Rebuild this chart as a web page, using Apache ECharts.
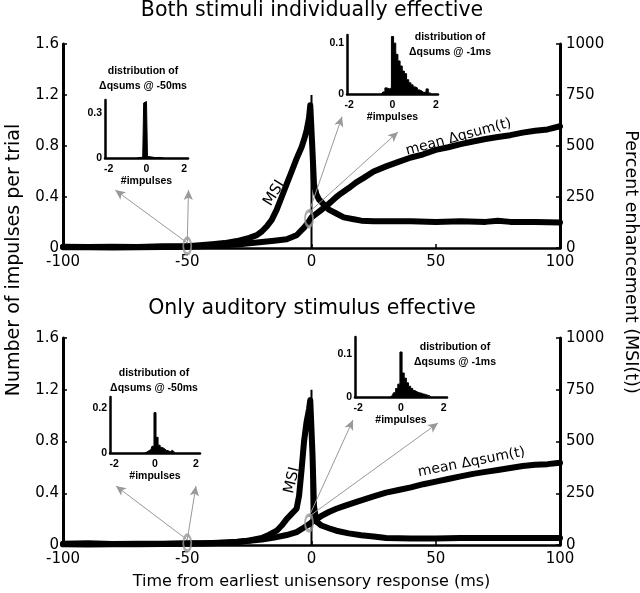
<!DOCTYPE html>
<html><head><meta charset="utf-8">
<script src="https://cdn.jsdelivr.net/npm/echarts@6/dist/echarts.min.js"></script>
<style>html,body{margin:0;padding:0;background:#fff}#c{width:640px;height:593px}</style>
</head><body><div id="c"></div>
<script>
const FONT = 'DejaVu Sans';
const SMALL_FONT = 'Liberation Sans';

// ---- main panels data ----
const xTicks = [-100, -50, 0, 50, 100];
const leftTicks = [0, 0.4, 0.8, 1.2, 1.6];
const rightTicks = [0, 250, 500, 750, 1000];

// top panel: mean delta qsum (impulses per trial)
const topMeanT = [-100,-90,-80,-70,-60,-50,-45,-40,-35,-30,-25,-20,-15,-10,-6,-3,-1,0,2,4,6,8,10,12,15,18,21,25,30,35,40,45,50,55,60,65,70,75,80,85,90,95,100];
const topMeanV = [0.005,0.005,0.004,0.006,0.007,0.01,0.013,0.017,0.022,0.028,0.037,0.047,0.057,0.068,0.1,0.16,0.21,0.24,0.27,0.3,0.33,0.365,0.4,0.43,0.47,0.515,0.55,0.6,0.64,0.675,0.71,0.735,0.77,0.79,0.815,0.835,0.855,0.87,0.885,0.905,0.92,0.93,0.955];
// top panel: MSI (percent enhancement)
const topMsiT = [-100,-90,-80,-70,-60,-50,-45,-40,-35,-30,-25,-22,-20,-18,-16,-14,-12,-10,-8,-6,-4,-3,-2,-1,-0.5,0.3,1,2,3,5,7,10,13,17,20,25,30,40,50,60,70,75,80,90,100];
const topMsiV = [6,5,6,5,8,9,13,18,24,34,50,63,81,106,138,188,250,313,375,438,494,531,575,638,700,500,313,263,238,213,188,169,150,141,134,131,131,131,128,131,128,134,128,128,125];

// bottom panel
const botMeanT = [-100,-90,-80,-70,-60,-50,-45,-40,-35,-30,-25,-20,-15,-10,-6,-3,-1,0,2,4,7,10,13,16,20,25,30,35,40,45,50,55,60,65,70,75,80,85,90,95,100];
const botMeanV = [0.005,0.004,0.006,0.005,0.007,0.01,0.012,0.015,0.02,0.025,0.033,0.043,0.057,0.077,0.1,0.135,0.16,0.175,0.2,0.225,0.255,0.28,0.3,0.32,0.345,0.375,0.405,0.425,0.445,0.47,0.49,0.51,0.53,0.55,0.565,0.58,0.595,0.61,0.62,0.625,0.635];
const botMsiT = [-100,-90,-80,-70,-60,-50,-40,-30,-25,-20,-17,-14,-12,-10,-8,-6,-5,-4,-3,-2,-1,-0.5,0.4,1,2,4,7,10,15,20,25,30,40,50,60,70,80,90,100];
const botMsiV = [6,8,5,6,6,8,9,13,22,34,50,69,94,125,150,175,238,363,500,594,656,700,438,188,113,94,81,69,56,47,41,34,31,31,34,34,34,34,34];

// time-zero reference line
const zeroLineT = [0, 0];
const zeroLineV = [0, 1.2];

// sampled time points (ellipses): [t, impulses]
const topMarks = [[-50, 0.015], [-1, 0.23]];
const botMarks = [[-50, 0.015], [-1, 0.17]];
// arrows from sampled points to insets (data coords)
const topArrows = [[[-50,0.04],[-79,0.455]], [[-50,0.04],[-49.5,0.455]], [[-1,0.28],[12.3,1.03]], [[-1,0.28],[34.8,0.91]]];
const botArrows = [[[-50,0.04],[-78.7,0.456]], [[-50,0.04],[-46.5,0.456]], [[-1,0.22],[16.7,0.966]], [[-1,0.22],[50.9,0.943]]];

// ---- inset histograms ----
const histTicks = [-2, 0, 2];
const hTLx = [-0.5,-0.4,-0.3,-0.2,-0.1,0,0.1,0.2,0.3,0.4,0.5,0.6,0.7,0.8,0.9];
const hTLv = [0,0.003,0.006,0.005,0.37,0.38,0.01,0.008,0.005,0.003,0.002,0.004,0.008,0.002,0];
const hTRx = [-0.5,-0.4,-0.3,-0.2,-0.1,0,0.1,0.2,0.3,0.4,0.5,0.6,0.7,0.8,0.9,1.0,1.1,1.2,1.3,1.4,1.5,1.6,1.7,1.8];
const hTRv = [0,0.004,0.012,0.01,0.012,0.113,0.1,0.078,0.065,0.055,0.045,0.04,0.028,0.022,0.018,0.014,0.012,0.008,0.006,0.003,0.004,0.01,0.002,0];
const hBLx = [-0.5,-0.4,-0.3,-0.2,-0.1,0,0.1,0.2,0.3,0.4,0.5,0.6,0.7,0.8,0.9,1.0];
const hBLv = [0,0.004,0.01,0.015,0.03,0.18,0.07,0.035,0.025,0.02,0.012,0.01,0.006,0.012,0.004,0];
const hBRx = [-0.5,-0.4,-0.3,-0.2,-0.1,0,0.1,0.2,0.3,0.4,0.5,0.6,0.7,0.8,0.9,1.0,1.1,1.2,1.3,1.4];
const hBRv = [0,0.004,0.01,0.02,0.03,0.105,0.056,0.044,0.033,0.025,0.02,0.015,0.012,0.01,0.009,0.007,0.006,0.004,0.003,0];

const zip = (a, b) => a.map((x, i) => [x, b[i]]);

const chart = echarts.init(document.getElementById('c'), null, {renderer: 'canvas'});

function mainX(gi, withName) {
  return {
    type: 'value', gridIndex: gi, min: xTicks[0], max: xTicks[xTicks.length - 1], interval: 50,
    axisLine: {onZero: false, lineStyle: {color: '#000', width: 2.5}},
    axisTick: {inside: true, length: 4, lineStyle: {color: '#000', width: 1.5}},
    axisLabel: {color: '#000', fontFamily: FONT, fontSize: 15, margin: 7},
    splitLine: {show: false},
    name: withName ? 'Time from earliest unisensory response (ms)' : '',
    nameLocation: 'middle', nameGap: 29,
    nameTextStyle: {color: '#000', fontFamily: FONT, fontSize: 16}
  };
}
function mainYL(gi) {
  return {
    type: 'value', gridIndex: gi, min: leftTicks[0], max: leftTicks[leftTicks.length - 1], interval: 0.4, position: 'left',
    axisLine: {show: true, onZero: false, lineStyle: {color: '#000', width: 3}},
    axisTick: {show: true, inside: true, length: 4, lineStyle: {color: '#000', width: 1.5}},
    axisLabel: {color: '#000', fontFamily: FONT, fontSize: 15, margin: 4,
      formatter: v => v === 0 ? '0' : v.toFixed(1)},
    splitLine: {show: false}
  };
}
function mainYR(gi) {
  return {
    type: 'value', gridIndex: gi, min: rightTicks[0], max: rightTicks[rightTicks.length - 1], interval: 250, position: 'right',
    axisLine: {show: true, onZero: false, lineStyle: {color: '#000', width: 3}},
    axisTick: {show: true, inside: true, length: 4, lineStyle: {color: '#000', width: 1.5}},
    axisLabel: {color: '#000', fontFamily: FONT, fontSize: 15, margin: 6, formatter: v => String(v)},
    splitLine: {show: false}
  };
}
const smallFont = {color: '#000', fontFamily: SMALL_FONT, fontSize: 10.5, fontWeight: 'bold'};
function insetX(gi, min, max) {
  return {
    type: 'value', gridIndex: gi, min: min, max: max,
    axisLine: {onZero: false, lineStyle: {color: '#000', width: 2.5}},
    axisTick: {show: false}, splitLine: {show: false},
    axisLabel: Object.assign({customValues: histTicks, margin: 6}, smallFont),
    name: '#impulses', nameLocation: 'middle', nameGap: 18, nameTextStyle: smallFont
  };
}
function insetY(gi, max, lab) {
  return {
    type: 'value', gridIndex: gi, min: 0, max: max,
    axisLine: {show: true, onZero: false, lineStyle: {color: '#000', width: 2.5}},
    axisTick: {show: false}, splitLine: {show: false},
    axisLabel: Object.assign({customValues: [0, lab], margin: 3,
      formatter: v => v === 0 ? '0' : String(v)}, smallFont)
  };
}
const thick = {color: '#000', width: 6, cap: 'round', join: 'round'};
function curve(xi, yi, data, lw) {
  return {type: 'line', xAxisIndex: xi, yAxisIndex: yi, data: data, symbol: 'none',
    lineStyle: lw ? {color: '#000', width: lw} : thick, animation: false, z: 3, silent: true};
}
function hist(xi, yi, data) {
  return {type: 'line', xAxisIndex: xi, yAxisIndex: yi, data: data, symbol: 'none', step: 'middle',
    lineStyle: {color: '#000', width: 1}, areaStyle: {color: '#000', opacity: 1},
    animation: false, silent: true};
}
const ellipse = 'path://M50,0 A50,100 0 1,0 50,200 A50,100 0 1,0 50,0 Z';
function marks(xi, yi, pts, arrows) {
  return {type: 'scatter', xAxisIndex: xi, yAxisIndex: yi, data: pts, symbol: ellipse,
    symbolSize: [8, 16], itemStyle: {color: 'rgba(0,0,0,0)', borderColor: '#999', borderWidth: 2.5},
    z: 6, silent: true, animation: false,
    markLine: {silent: true, animation: false, symbol: ['none', 'arrow'], symbolSize: [7, 10],
      lineStyle: {color: '#999', width: 1, type: 'solid'}, label: {show: false},
      emphasis: {disabled: true},
      data: arrows.map(a => [{coord: a[0]}, {coord: a[1]}])}};
}
function insetTitle(cx, top, txt) {
  return {text: txt, left: cx, top: top, textAlign: 'center', padding: 0,
    textStyle: Object.assign({lineHeight: 14.5}, smallFont)};
}

const option = {
  backgroundColor: '#fff',
  animation: false,
  title: [
    {text: 'Both stimuli individually effective', left: 312, top: 0, textAlign: 'center', padding: 0,
      textStyle: {color: '#000', fontFamily: FONT, fontSize: 20.5, fontWeight: 'normal'}},
    {text: 'Only auditory stimulus effective', left: 312, top: 298, textAlign: 'center', padding: 0,
      textStyle: {color: '#000', fontFamily: FONT, fontSize: 20.5, fontWeight: 'normal'}},
    insetTitle(143, 64, 'distribution of\nΔqsums @ -50ms'),
    insetTitle(450, 30, 'distribution of\nΔqsums @ -1ms'),
    insetTitle(154, 366, 'distribution of\nΔqsums @ -50ms'),
    insetTitle(455, 340, 'distribution of\nΔqsums @ -1ms')
  ],
  grid: [
    {left: 63, top: 44, width: 497, height: 204},
    {left: 63, top: 338, width: 497, height: 207},
    {left: 105, top: 100, width: 83, height: 58},
    {left: 347, top: 35, width: 91, height: 59},
    {left: 110, top: 397, width: 90, height: 56},
    {left: 355, top: 337, width: 92, height: 60}
  ],
  xAxis: [mainX(0, false), mainX(1, true),
    insetX(2, -2.2, 2.2), insetX(3, -2.1, 2.1), insetX(4, -2.2, 2.2), insetX(5, -2.15, 2.15)],
  yAxis: [mainYL(0), mainYR(0), mainYL(1), mainYR(1),
    insetY(2, 0.39, 0.3), insetY(3, 0.116, 0.1), insetY(4, 0.25, 0.2), insetY(5, 0.14, 0.1)],
  series: [
    curve(0, 0, zip(topMeanT, topMeanV)),
    curve(0, 1, zip(topMsiT, topMsiV)),
    curve(0, 0, zip(zeroLineT, zeroLineV), 2),
    marks(0, 0, topMarks, topArrows),
    curve(1, 2, zip(botMeanT, botMeanV)),
    curve(1, 3, zip(botMsiT, botMsiV)),
    curve(1, 2, zip(zeroLineT, zeroLineV), 2),
    marks(1, 2, botMarks, botArrows),
    hist(2, 4, zip(hTLx, hTLv)),
    hist(3, 5, zip(hTRx, hTRv)),
    hist(4, 6, zip(hBLx, hBLv)),
    hist(5, 7, zip(hBRx, hBRv))
  ]
};
chart.setOption(option);

// curve labels placed in data coordinates
const curveLabels = [
  {g: 0, text: 'MSI', t: -15, v: 0.43, rot: 58, size: 15},
  {g: 0, text: 'mean Δqsum(t)', t: 59.2, v: 0.87, rot: 15, size: 14},
  {g: 1, text: 'MSI', t: -7.8, v: 0.50, rot: 76, size: 15},
  {g: 1, text: 'mean Δqsum(t)', t: 64.4, v: 0.64, rot: 11, size: 14}
];
const graphics = curveLabels.map(l => {
  const p = chart.convertToPixel({xAxisIndex: l.g, yAxisIndex: l.g * 2}, [l.t, l.v]);
  return {type: 'text', x: p[0], y: p[1], rotation: l.rot * Math.PI / 180, z: 10,
    style: {text: l.text, fontFamily: FONT, fontSize: l.size, fill: '#000', align: 'center', verticalAlign: 'middle'}};
});
graphics.push({type: 'text', x: 14, y: 260, rotation: Math.PI / 2, z: 10,
  style: {text: 'Number of impulses per trial', fontFamily: FONT, fontSize: 19, fill: '#000', align: 'center', verticalAlign: 'middle'}});
graphics.push({type: 'text', x: 631, y: 262, rotation: -Math.PI / 2, z: 10,
  style: {text: 'Percent enhancement (MSI(t))', fontFamily: FONT, fontSize: 17.5, fill: '#000', align: 'center', verticalAlign: 'middle'}});
chart.setOption({graphic: graphics});
</script></body></html>
